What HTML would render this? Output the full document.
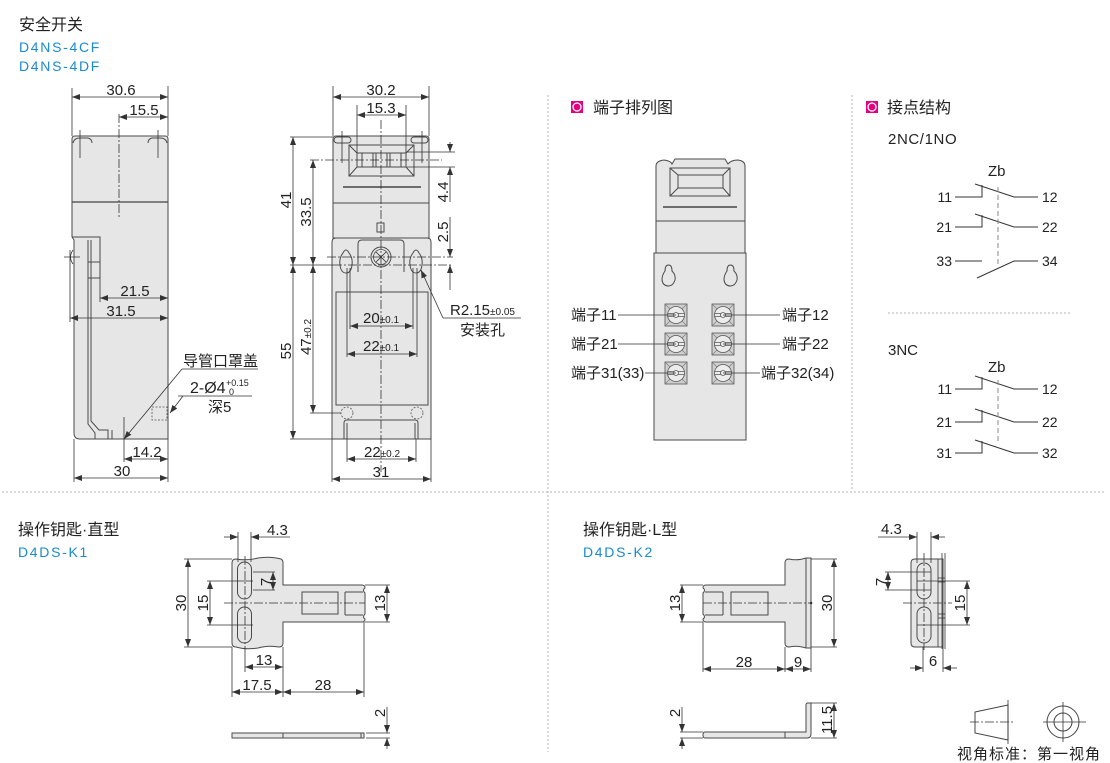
<!DOCTYPE html>
<html><head><meta charset="utf-8">
<style>
html,body{margin:0;padding:0;background:#fff;}
svg{display:block;font-family:"Liberation Sans","Noto Sans CJK SC",sans-serif;}
.o{fill:#e6e6e6;stroke:#4a4a4a;stroke-width:1}
.l{fill:none;stroke:#4a4a4a;stroke-width:1}
.d{fill:none;stroke:#333;stroke-width:0.8}
.c{fill:none;stroke:#333;stroke-width:0.8;stroke-dasharray:9,2,2,2}
.s{fill:none;stroke:#b5b5b5;stroke-width:1;stroke-dasharray:2,2}
.a{marker-start:url(#ar);marker-end:url(#ar)}
.e{marker-end:url(#ar)}
text{fill:#222}
.t{font-size:15px}
.h{font-size:16px}
.b{fill:#1a8ad0;font-size:14px;letter-spacing:1.7px}
.m{text-anchor:middle}
</style></head><body>
<svg width="1110" height="763" viewBox="0 0 1110 763" xmlns="http://www.w3.org/2000/svg">
<defs>
<marker id="ar" viewBox="0 0 8 6" refX="8" refY="3" markerWidth="8" markerHeight="6" markerUnits="userSpaceOnUse" orient="auto-start-reverse"><path d="M0,0 L8,3 L0,6 z" fill="#333"/></marker>
<g id="tm">
<rect x="-11" y="-11" width="22" height="22" fill="#cfcfcf" stroke="#555" stroke-width="0.8"/>
<path d="M-11,-11 L-6,-6 M11,-11 L6,-6 M-11,11 L-6,6 M11,11 L6,6" stroke="#777" stroke-width="0.6"/>
<circle r="8.5" fill="#ececec" stroke="#555" stroke-width="0.8"/>
<path d="M-8.5,-1.5 H8.5 M-8.5,1.5 H8.5" stroke="#555" stroke-width="0.8"/>
<circle r="2.5" fill="#ececec" stroke="#555" stroke-width="0.8"/>
</g>
</defs>

<!-- separators -->
<line class="s" x1="548" y1="95" x2="548" y2="752"/>
<line class="s" x1="852" y1="95" x2="852" y2="490"/>
<line class="s" x1="2" y1="492" x2="1105" y2="492"/>

<!-- header -->
<text class="h" x="19" y="30">安全开关</text>
<text class="b" x="19" y="52">D4NS-4CF</text>
<text class="b" x="19" y="71">D4NS-4DF</text>

<!-- ============ LEFT SWITCH (side) ============ -->
<path class="o" d="M72,139 Q72,136 75,136 H165 Q168,136 168,139 V439 H80 Q74,439 74,433 V240 L72,237 Z"/>
<path class="l" d="M73,143 Q74,138 80,138 H88 Q92,139 92,143 M148,143 Q148,139 152,138 H160 Q166,138 167,143"/>
<line class="d" x1="80" y1="130" x2="80" y2="158"/>
<line class="d" x1="158" y1="130" x2="158" y2="158"/>
<line x1="72" y1="202" x2="168" y2="202" stroke="#444" stroke-width="1.3"/>
<path class="l" d="M72,237 H100 V278 M88,240 V424 L95,433 V439 M91,240 V421 L99,430 H108 V439 M112,430 V439 M88,262 H100 M88,278 H100"/>
<path class="d" d="M64,257 H80 M73,250 Q68,257 73,264"/>
<line class="c" x1="119" y1="114" x2="119" y2="217"/>
<!-- dims -->
<line class="d" x1="72" y1="88" x2="72" y2="136"/>
<line class="d" x1="168" y1="86" x2="168" y2="136"/>
<line class="d a" x1="72" y1="97" x2="168" y2="97"/>
<text class="t m" x="121" y="95">30.6</text>
<line class="d a" x1="119" y1="117" x2="168" y2="117"/>
<text class="t m" x="144" y="115">15.5</text>
<line class="d" x1="100" y1="278" x2="100" y2="302"/>
<line class="d a" x1="100" y1="298" x2="168" y2="298"/>
<text class="t m" x="135" y="296">21.5</text>
<line class="d" x1="70" y1="250" x2="70" y2="322"/>
<line class="d a" x1="70" y1="318" x2="168" y2="318"/>
<text class="t m" x="121" y="316">31.5</text>
<line class="d" x1="124" y1="417" x2="124" y2="462"/>
<line class="d a" x1="124" y1="459" x2="168" y2="459"/>
<text class="t m" x="147" y="457">14.2</text>
<line class="d" x1="74" y1="439" x2="74" y2="482"/>
<line class="d" x1="168" y1="439" x2="168" y2="482"/>
<line class="d a" x1="74" y1="478" x2="168" y2="478"/>
<text class="t m" x="122" y="476">30</text>
<!-- labels -->
<text class="t" x="183" y="366">导管口罩盖</text>
<line class="d" x1="182" y1="369" x2="258" y2="369"/>
<line class="d e" x1="182" y1="369" x2="124" y2="439"/>
<text x="190" y="393" font-size="16">2-Ø4</text>
<text x="226" y="386" font-size="9">+0.15</text>
<text x="229" y="395" font-size="9">0</text>
<line class="d" x1="178" y1="396" x2="252" y2="396"/>
<line class="d e" x1="183" y1="396" x2="170" y2="413"/>
<text class="t" x="208" y="412">深5</text>
<rect x="152" y="407" width="15" height="13" fill="none" stroke="#555" stroke-width="0.8" stroke-dasharray="2,1.5"/>

<!-- ============ MIDDLE SWITCH (front) ============ -->
<path class="o" d="M333,139 Q333,136 336,136 H426 Q429,136 429,139 V238 H333 Z"/>
<path class="o" d="M332,242 Q332,238 336,238 H427 Q431,238 431,242 V439 H332 Z"/>
<rect class="l" x="334" y="137" width="17" height="6" rx="3"/>
<rect class="l" x="411" y="137" width="17" height="6" rx="3"/>
<line class="d" x1="342" y1="131" x2="342" y2="163"/>
<line class="d" x1="422" y1="131" x2="422" y2="163"/>
<rect class="l" x="349" y="145" width="65" height="31"/>
<rect class="l" x="357" y="153" width="49" height="14"/>
<path class="l" d="M349,145 L357,153 M414,145 L406,153 M349,176 L357,167 M414,176 L406,167 M362,153 V167 M373,153 V167 M376,153 V167 M387,153 V167 M390,153 V167 M401,153 V167"/>
<line x1="343" y1="187" x2="421" y2="187" stroke="#444" stroke-width="1.6"/>
<line class="l" x1="333" y1="203" x2="429" y2="203"/>
<rect class="l" x="377" y="223" width="7" height="9"/>
<path class="l" d="M358,272 V244 Q358,240 362,240 H400 Q404,240 404,244 V272"/>
<circle cx="381" cy="257" r="10" fill="#e6e6e6" stroke="#4a4a4a"/>
<circle cx="381" cy="257" r="7.5" fill="none" stroke="#4a4a4a" stroke-width="0.8"/>
<path class="d" d="M376,252 L386,262 M386,252 L376,262"/>
<path class="l" d="M343,253 Q346,247 349,253 Q353,258 352,265 Q351,273 346,273 Q341,273 340,265 Q339,258 343,253 Z"/>
<path class="l" d="M413,253 Q416,247 419,253 Q423,258 422,265 Q421,273 416,273 Q411,273 410,265 Q409,258 413,253 Z"/>
<rect class="l" x="336" y="292" width="92" height="113"/>
<circle cx="347" cy="413" r="6" fill="none" stroke="#555" stroke-width="0.8" stroke-dasharray="2,1.5"/>
<circle cx="417" cy="413" r="6" fill="none" stroke="#555" stroke-width="0.8" stroke-dasharray="2,1.5"/>
<path class="l" d="M344,439 V423 Q344,420 347,420 H415 Q418,420 418,423 V439 M347,439 V423 M415,439 V423"/>
<line class="c" x1="381" y1="120" x2="381" y2="472"/>
<line class="c" x1="310" y1="160" x2="442" y2="160"/>
<line class="c" x1="327" y1="257" x2="453" y2="257"/>
<line class="d" x1="290" y1="265" x2="333" y2="265"/>
<line class="c" x1="333" y1="265" x2="453" y2="265"/>
<!-- dims -->
<line class="d" x1="333" y1="86" x2="333" y2="136"/>
<line class="d" x1="429" y1="86" x2="429" y2="136"/>
<line class="d a" x1="333" y1="97" x2="429" y2="97"/>
<text class="t m" x="381" y="95">30.2</text>
<line class="d" x1="357" y1="105" x2="357" y2="153"/>
<line class="d" x1="406" y1="105" x2="406" y2="153"/>
<line class="d a" x1="357" y1="115" x2="406" y2="115"/>
<text class="t m" x="381" y="113">15.3</text>
<line class="d" x1="290" y1="137" x2="333" y2="137"/>
<line class="d" x1="290" y1="439" x2="332" y2="439"/>
<line class="d" x1="310" y1="413" x2="341" y2="413"/>
<line class="d a" x1="293" y1="137" x2="293" y2="265"/>
<line class="d a" x1="293" y1="265" x2="293" y2="439"/>
<line class="d a" x1="313" y1="160" x2="313" y2="265"/>
<line class="d a" x1="313" y1="265" x2="313" y2="413"/>
<text class="t m" transform="translate(291,200) rotate(-90)">41</text>
<text class="t m" transform="translate(311,212) rotate(-90)">33.5</text>
<text class="t m" transform="translate(291,351) rotate(-90)">55</text>
<text class="t m" transform="translate(311,337) rotate(-90)">47<tspan font-size="10">±0.2</tspan></text>
<line class="d" x1="407" y1="152" x2="455" y2="152"/>
<line class="d" x1="407" y1="167" x2="455" y2="167"/>
<line class="d e" x1="450" y1="142" x2="450" y2="152"/>
<line class="d e" x1="450" y1="202" x2="450" y2="167"/>
<text class="t m" transform="translate(448,192) rotate(-90)">4.4</text>
<line class="d e" x1="450" y1="217" x2="450" y2="257"/>
<line class="d e" x1="450" y1="290" x2="450" y2="265"/>
<text class="t m" transform="translate(448,232) rotate(-90)">2.5</text>
<line class="d" x1="347" y1="268" x2="347" y2="357"/>
<line class="d" x1="350" y1="268" x2="350" y2="329"/>
<line class="d" x1="413" y1="268" x2="413" y2="329"/>
<line class="d" x1="417" y1="268" x2="417" y2="357"/>
<line class="d a" x1="350" y1="326" x2="413" y2="326"/>
<text class="t" x="363" y="323">20<tspan font-size="10">±0.1</tspan></text>
<line class="d a" x1="347" y1="354" x2="417" y2="354"/>
<text class="t" x="363" y="351">22<tspan font-size="10">±0.1</tspan></text>
<line class="d" x1="347" y1="439" x2="347" y2="462"/>
<line class="d" x1="416" y1="439" x2="416" y2="462"/>
<line class="d a" x1="347" y1="459" x2="416" y2="459"/>
<text class="t" x="364" y="457">22<tspan font-size="10">±0.2</tspan></text>
<line class="d" x1="332" y1="439" x2="332" y2="482"/>
<line class="d" x1="431" y1="439" x2="431" y2="482"/>
<line class="d a" x1="332" y1="479" x2="431" y2="479"/>
<text class="t m" x="381" y="477">31</text>
<text class="t" x="450" y="315">R2.15<tspan font-size="10">±0.05</tspan></text>
<line class="d" x1="443" y1="318" x2="521" y2="318"/>
<line class="d e" x1="443" y1="318" x2="421" y2="270"/>
<text class="t" x="460" y="335">安装孔</text>

<!-- ============ TERMINALS ============ -->
<rect x="571" y="101" width="12" height="12" fill="#e4007f"/>
<circle cx="577" cy="107" r="4" fill="none" stroke="#fff" stroke-width="1.3"/>
<text class="h" x="593" y="113">端子排列图</text>
<path class="o" d="M656,253 V166 Q656,161 664,160 Q671,161 672,164 L675,159 H725 L728,164 Q731,160 738,160 Q745,161 745,166 V253 Z"/>
<rect class="l" x="670" y="168" width="60" height="28"/>
<rect class="l" x="678" y="175" width="45" height="13"/>
<path class="l" d="M670,168 L678,175 M730,168 L723,175 M670,196 L678,188 M730,196 L723,188"/>
<line x1="663" y1="207" x2="737" y2="207" stroke="#444" stroke-width="1.4"/>
<line class="l" x1="656" y1="221" x2="745" y2="221"/>
<rect class="o" x="654" y="253" width="92" height="187"/>
<path class="l" d="M665,271 Q665,265 668.5,265 Q672,265 672,271 Q676,275 675,280 Q673,286 668.5,286 Q663,286 662,280 Q662,275 665,271 Z"/>
<path class="l" d="M727,271 Q727,265 730.5,265 Q734,265 734,271 Q738,275 737,280 Q735,286 730.5,286 Q725,286 724,280 Q724,275 727,271 Z"/>
<use href="#tm" x="676" y="315"/>
<use href="#tm" x="676" y="344"/>
<use href="#tm" x="676" y="373"/>
<use href="#tm" x="723" y="315"/>
<use href="#tm" x="723" y="344"/>
<use href="#tm" x="723" y="373"/>
<path class="d" d="M618,315 H676 M618,344 H676 M645,373 H676 M723,315 H780 M723,344 H780 M723,373 H760"/>
<text class="t" x="571" y="320">端子11</text>
<text class="t" x="571" y="349">端子21</text>
<text class="t" x="571" y="378">端子31(33)</text>
<text class="t" x="782" y="320">端子12</text>
<text class="t" x="782" y="349">端子22</text>
<text class="t" x="761" y="378">端子32(34)</text>

<!-- ============ CONTACTS ============ -->
<rect x="866" y="101" width="12" height="12" fill="#e4007f"/>
<circle cx="872" cy="107" r="4" fill="none" stroke="#fff" stroke-width="1.3"/>
<text class="h" x="887" y="113">接点结构</text>
<text class="t" x="888" y="144" letter-spacing="0.6">2NC/1NO</text>
<text class="t" x="988" y="176">Zb</text>
<g class="d" style="stroke:#333;stroke-width:1">
<path d="M955,197 H982 V185 M975,184 L1014,197 H1038"/>
<path d="M955,227 H982 V215 M975,214 L1014,227 H1038"/>
<path d="M955,261 H982 M977,278 L1014,261 H1038"/>
<path d="M955,389 H982 V377 M975,376 L1014,389 H1038"/>
<path d="M955,422 H982 V410 M975,409 L1014,422 H1038"/>
<path d="M955,453 H982 V441 M975,440 L1014,453 H1038"/>
</g>
<line x1="998" y1="187" x2="998" y2="267" stroke="#888" stroke-width="1" stroke-dasharray="5,3"/>
<line x1="998" y1="380" x2="998" y2="443" stroke="#888" stroke-width="1" stroke-dasharray="5,3"/>
<g font-size="14">
<text x="952" y="202" text-anchor="end">11</text>
<text x="1042" y="202">12</text>
<text x="952" y="232" text-anchor="end">21</text>
<text x="1042" y="232">22</text>
<text x="952" y="266" text-anchor="end">33</text>
<text x="1042" y="266">34</text>
<text x="952" y="394" text-anchor="end">11</text>
<text x="1042" y="394">12</text>
<text x="952" y="427" text-anchor="end">21</text>
<text x="1042" y="427">22</text>
<text x="952" y="458" text-anchor="end">31</text>
<text x="1042" y="458">32</text>
</g>
<line class="s" x1="888" y1="313" x2="1072" y2="313"/>
<text class="t" x="888" y="355">3NC</text>
<text class="t" x="988" y="372">Zb</text>

<!-- ============ K1 ============ -->
<text class="h" x="18" y="535">操作钥匙·直型</text>
<text class="b" x="18" y="557">D4DS-K1</text>
<path class="o" d="M236,559 Q247,561 258,558 Q270,556 281,559 Q283,560 283,563 V585 H362 Q365,585 365,588 Q362,590 365,593 V614 Q362,617 365,619 Q365,622 362,622 H283 V643 Q283,647 279,647 Q268,645 258,648 Q246,650 236,647 Q232,647 232,643 V563 Q232,559 236,559 Z"/>
<rect class="l" x="302" y="592" width="36" height="22"/>
<path class="l" d="M345,592 V615 M345,592 H363 M345,615 H363"/>
<rect class="l" x="237.5" y="562" width="14" height="37" rx="7"/>
<rect class="l" x="237.5" y="607" width="14" height="36" rx="7"/>
<line class="c" x1="224" y1="603" x2="365" y2="603"/>
<line class="c" x1="245" y1="556" x2="245" y2="650"/>
<!-- dims -->
<line class="d" x1="238" y1="532" x2="238" y2="562"/>
<line class="d" x1="251" y1="532" x2="251" y2="562"/>
<line class="d e" x1="224" y1="537" x2="238" y2="537"/>
<line class="d e" x1="290" y1="537" x2="251" y2="537"/>
<text class="t" x="267" y="535">4.3</text>
<line class="d" x1="253" y1="572" x2="275" y2="572"/>
<line class="d" x1="253" y1="590" x2="275" y2="590"/>
<line class="d a" x1="273" y1="572" x2="273" y2="590"/>
<text class="t m" transform="translate(271,582) rotate(-90)">7</text>
<line class="d" x1="184" y1="559" x2="232" y2="559"/>
<line class="d" x1="184" y1="647" x2="232" y2="647"/>
<line class="d a" x1="188" y1="559" x2="188" y2="647"/>
<text class="t m" transform="translate(186,603) rotate(-90)">30</text>
<line class="d" x1="207" y1="581" x2="253" y2="581"/>
<line class="d" x1="207" y1="625" x2="253" y2="625"/>
<line class="d a" x1="210" y1="581" x2="210" y2="625"/>
<text class="t m" transform="translate(208,603) rotate(-90)">15</text>
<line class="d" x1="365" y1="585" x2="390" y2="585"/>
<line class="d" x1="365" y1="622" x2="390" y2="622"/>
<line class="d a" x1="387" y1="585" x2="387" y2="622"/>
<text class="t m" transform="translate(385,603) rotate(-90)">13</text>
<line class="d" x1="232" y1="647" x2="232" y2="697"/>
<line class="d" x1="283" y1="647" x2="283" y2="697"/>
<line class="d" x1="245" y1="650" x2="245" y2="672"/>
<line class="d" x1="364" y1="622" x2="364" y2="697"/>
<line class="d a" x1="245" y1="667" x2="283" y2="667"/>
<text class="t m" x="264" y="665">13</text>
<line class="d a" x1="232" y1="692" x2="283" y2="692"/>
<text class="t m" x="257" y="690">17.5</text>
<line class="d a" x1="283" y1="692" x2="364" y2="692"/>
<text class="t m" x="323" y="690">28</text>
<rect class="o" x="232" y="733" width="132" height="5"/>
<path class="l" d="M283,733 V738 M361,733 V738"/>
<line class="d" x1="366" y1="733" x2="390" y2="733"/>
<line class="d" x1="366" y1="738" x2="390" y2="738"/>
<line class="d e" x1="387" y1="707" x2="387" y2="733"/>
<line class="d e" x1="387" y1="749" x2="387" y2="738"/>
<text class="t m" transform="translate(385,713) rotate(-90)">2</text>

<!-- ============ K2 ============ -->
<text class="h" x="583" y="535">操作钥匙·L型</text>
<text class="b" x="583" y="557">D4DS-K2</text>
<path class="o" d="M785,585 V563 Q785,559 789,559 Q797,561 806,558 H811 V648 H806 Q797,645 789,647 Q785,647 785,643 V622 H706 Q703,622 703,619 Q706,617 703,614 V593 Q706,590 703,588 Q703,585 706,585 Z"/>
<line class="l" x1="806" y1="558" x2="806" y2="648"/>
<rect class="l" x="731" y="592" width="37" height="23"/>
<path class="l" d="M723,592 V615 M705,592 H723 M705,615 H723"/>
<line class="c" x1="703" y1="603" x2="811" y2="603"/>
<circle cx="811" cy="603" r="1.3" fill="#333"/>
<line class="d" x1="680" y1="585" x2="703" y2="585"/>
<line class="d" x1="680" y1="622" x2="703" y2="622"/>
<line class="d a" x1="682" y1="585" x2="682" y2="622"/>
<text class="t m" transform="translate(680,603) rotate(-90)">13</text>
<line class="d" x1="811" y1="559" x2="837" y2="559"/>
<line class="d" x1="811" y1="647" x2="837" y2="647"/>
<line class="d a" x1="834" y1="559" x2="834" y2="647"/>
<text class="t m" transform="translate(832,603) rotate(-90)">30</text>
<line class="d" x1="703" y1="622" x2="703" y2="672"/>
<line class="d" x1="785" y1="647" x2="785" y2="672"/>
<line class="d" x1="811" y1="648" x2="811" y2="672"/>
<line class="d a" x1="703" y1="669" x2="785" y2="669"/>
<text class="t m" x="744" y="667">28</text>
<line class="d a" x1="785" y1="669" x2="811" y2="669"/>
<text class="t m" x="798" y="667">9</text>
<path class="o" d="M705,732 H806 V705 Q806,703 808,703 H811 V734 Q811,738 807,738 H705 Q703,738 703,735 Q703,732 705,732 Z"/>
<line class="l" x1="785" y1="732" x2="785" y2="738"/>
<line class="d" x1="680" y1="732" x2="703" y2="732"/>
<line class="d" x1="680" y1="738" x2="703" y2="738"/>
<line class="d e" x1="682" y1="707" x2="682" y2="732"/>
<line class="d e" x1="682" y1="749" x2="682" y2="738"/>
<text class="t m" transform="translate(680,713) rotate(-90)">2</text>
<line class="d" x1="811" y1="703" x2="837" y2="703"/>
<line class="d" x1="811" y1="738" x2="837" y2="738"/>
<line class="d a" x1="834" y1="703" x2="834" y2="738"/>
<text class="t m" transform="translate(832,720) rotate(-90)">11.5</text>

<!-- ============ side view far right ============ -->
<path class="o" d="M915,559 H943 V647 H915 Q911,647 911,643 V563 Q911,559 915,559 Z"/>
<path class="d" d="M938,559 V647 M942,553 V649 M945,553 V649 M938,578 H945 M938,582 H945 M938,614 H945 M938,618 H945"/>
<rect class="l" x="917" y="563" width="14" height="36" rx="7"/>
<rect class="l" x="917" y="607" width="14" height="36" rx="7"/>
<line class="c" x1="924" y1="553" x2="924" y2="650"/>
<line class="c" x1="903" y1="603" x2="952" y2="603"/>
<line class="d" x1="917" y1="532" x2="917" y2="563"/>
<line class="d" x1="931" y1="532" x2="931" y2="563"/>
<line class="d e" x1="878" y1="537" x2="917" y2="537"/>
<line class="d e" x1="945" y1="537" x2="931" y2="537"/>
<text class="t" x="881" y="534">4.3</text>
<line class="d" x1="885" y1="572" x2="931" y2="572"/>
<line class="d" x1="885" y1="590" x2="931" y2="590"/>
<line class="d a" x1="888" y1="572" x2="888" y2="590"/>
<text class="t m" transform="translate(886,582) rotate(-90)">7</text>
<line class="d" x1="917" y1="581" x2="970" y2="581"/>
<line class="d" x1="917" y1="625" x2="970" y2="625"/>
<line class="d a" x1="967" y1="581" x2="967" y2="625"/>
<text class="t m" transform="translate(965,603) rotate(-90)">15</text>
<line class="d" x1="923" y1="647" x2="923" y2="672"/>
<line class="d" x1="943" y1="647" x2="943" y2="672"/>
<line class="d e" x1="910" y1="668" x2="923" y2="668"/>
<line class="d e" x1="957" y1="668" x2="943" y2="668"/>
<text class="t m" x="933" y="666">6</text>

<!-- projection symbol -->
<polygon points="975,712 1008,705 1008,740 975,733" fill="none" stroke="#444" stroke-width="1"/>
<line class="c" x1="970" y1="722" x2="1013" y2="722"/>
<line class="d" x1="1008" y1="700" x2="1008" y2="744"/>
<circle cx="1063" cy="722" r="16" fill="none" stroke="#444" stroke-width="1"/>
<circle cx="1063" cy="722" r="9" fill="none" stroke="#444" stroke-width="1"/>
<line class="d" x1="1043" y1="722" x2="1086" y2="722"/>
<line class="d" x1="1063" y1="702" x2="1063" y2="742"/>
<text class="t" x="957" y="759" letter-spacing="1">视角标准：第一视角</text>
</svg>
</body></html>
